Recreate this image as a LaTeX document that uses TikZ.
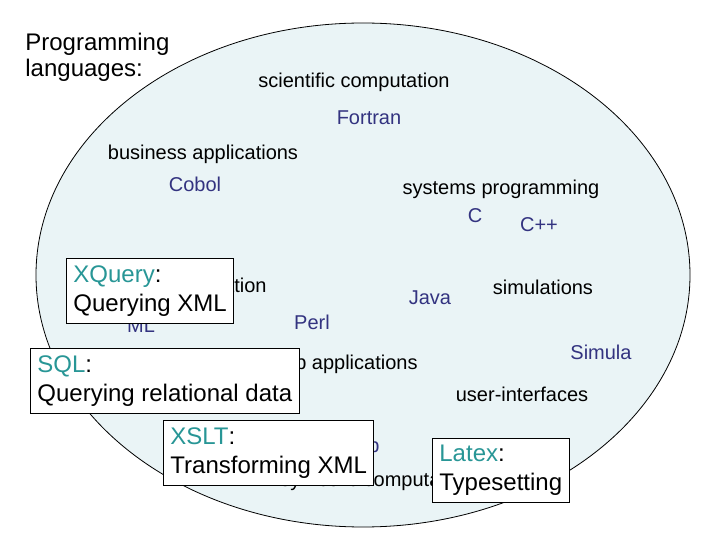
\documentclass[tikz,border=0pt]{standalone}
\usepackage{fontspec}
\setmainfont{Liberation Sans}
\definecolor{ovalfill}{RGB}{234,244,246}
\definecolor{langblue}{RGB}{51,51,128}
\definecolor{teal}{RGB}{40,150,150}
\begin{document}
\begin{tikzpicture}[x=0.5pt, y=-0.5pt,
  area/.style={font=\fontsize{10}{12}\selectfont, inner sep=0pt},
  lang/.style={area, text=langblue},
  infobox/.style={draw=black, fill=white, align=left, anchor=north west,
    font=\fontsize{12}{14.5}\selectfont, inner xsep=3.5pt, inner ysep=3.5pt}]
  \useasboundingbox (0,0) rectangle (720,540);
  % The oval of languages
  \draw[fill=ovalfill, line width=0.4pt] (363,275) ellipse [x radius=327, y radius=252];
  % Title
  \node[align=left, anchor=north west, inner sep=0pt, font=\fontsize{12}{13}\selectfont]
    (title) at (25,33) {Programming\\languages:};
  % Application areas
  \node[area] (sci) at (354,82) {scientific computation};
  \node[area] (bus) at (203,154) {business applications};
  \node[area] (sys) at (501,189) {systems programming};
  \node[area] (sim) at (543,287) {simulations};
  \node[area, anchor=east] (verif) at (267,287) {program verification};
  \node[area, anchor=east] (web) at (418,364) {web applications};
  \node[area] (ui) at (522,394) {user-interfaces};
  \node[area, anchor=west] (symb) at (280,481) {symbolic computation};
  % Languages
  \node[lang] (fortran) at (369,118) {Fortran};
  \node[lang] (cobol) at (195,184) {Cobol};
  \node[lang] (c) at (475,216) {C};
  \node[lang] (cpp) at (539,225) {C++};
  \node[lang] (java) at (430,298) {Java};
  \node[lang] (perl) at (312,322) {Perl};
  \node[lang] (ml) at (141,326) {ML};
  \node[lang] (simula) at (601,352) {Simula};
  \node[lang, anchor=east] (lisp) at (380,447) {Lisp};
  % Boxes on top
  \node[infobox] (xquery) at (66,258) {\textcolor{teal}{XQuery}:\\Querying XML};
  \node[infobox] (sql) at (30,348) {\textcolor{teal}{SQL}:\\Querying relational data};
  \node[infobox] (xslt) at (163,420) {\textcolor{teal}{XSLT}:\\Transforming XML};
  \node[infobox] (latex) at (432,438) {\textcolor{teal}{Latex}:\\Typesetting};
\end{tikzpicture}
\end{document}
